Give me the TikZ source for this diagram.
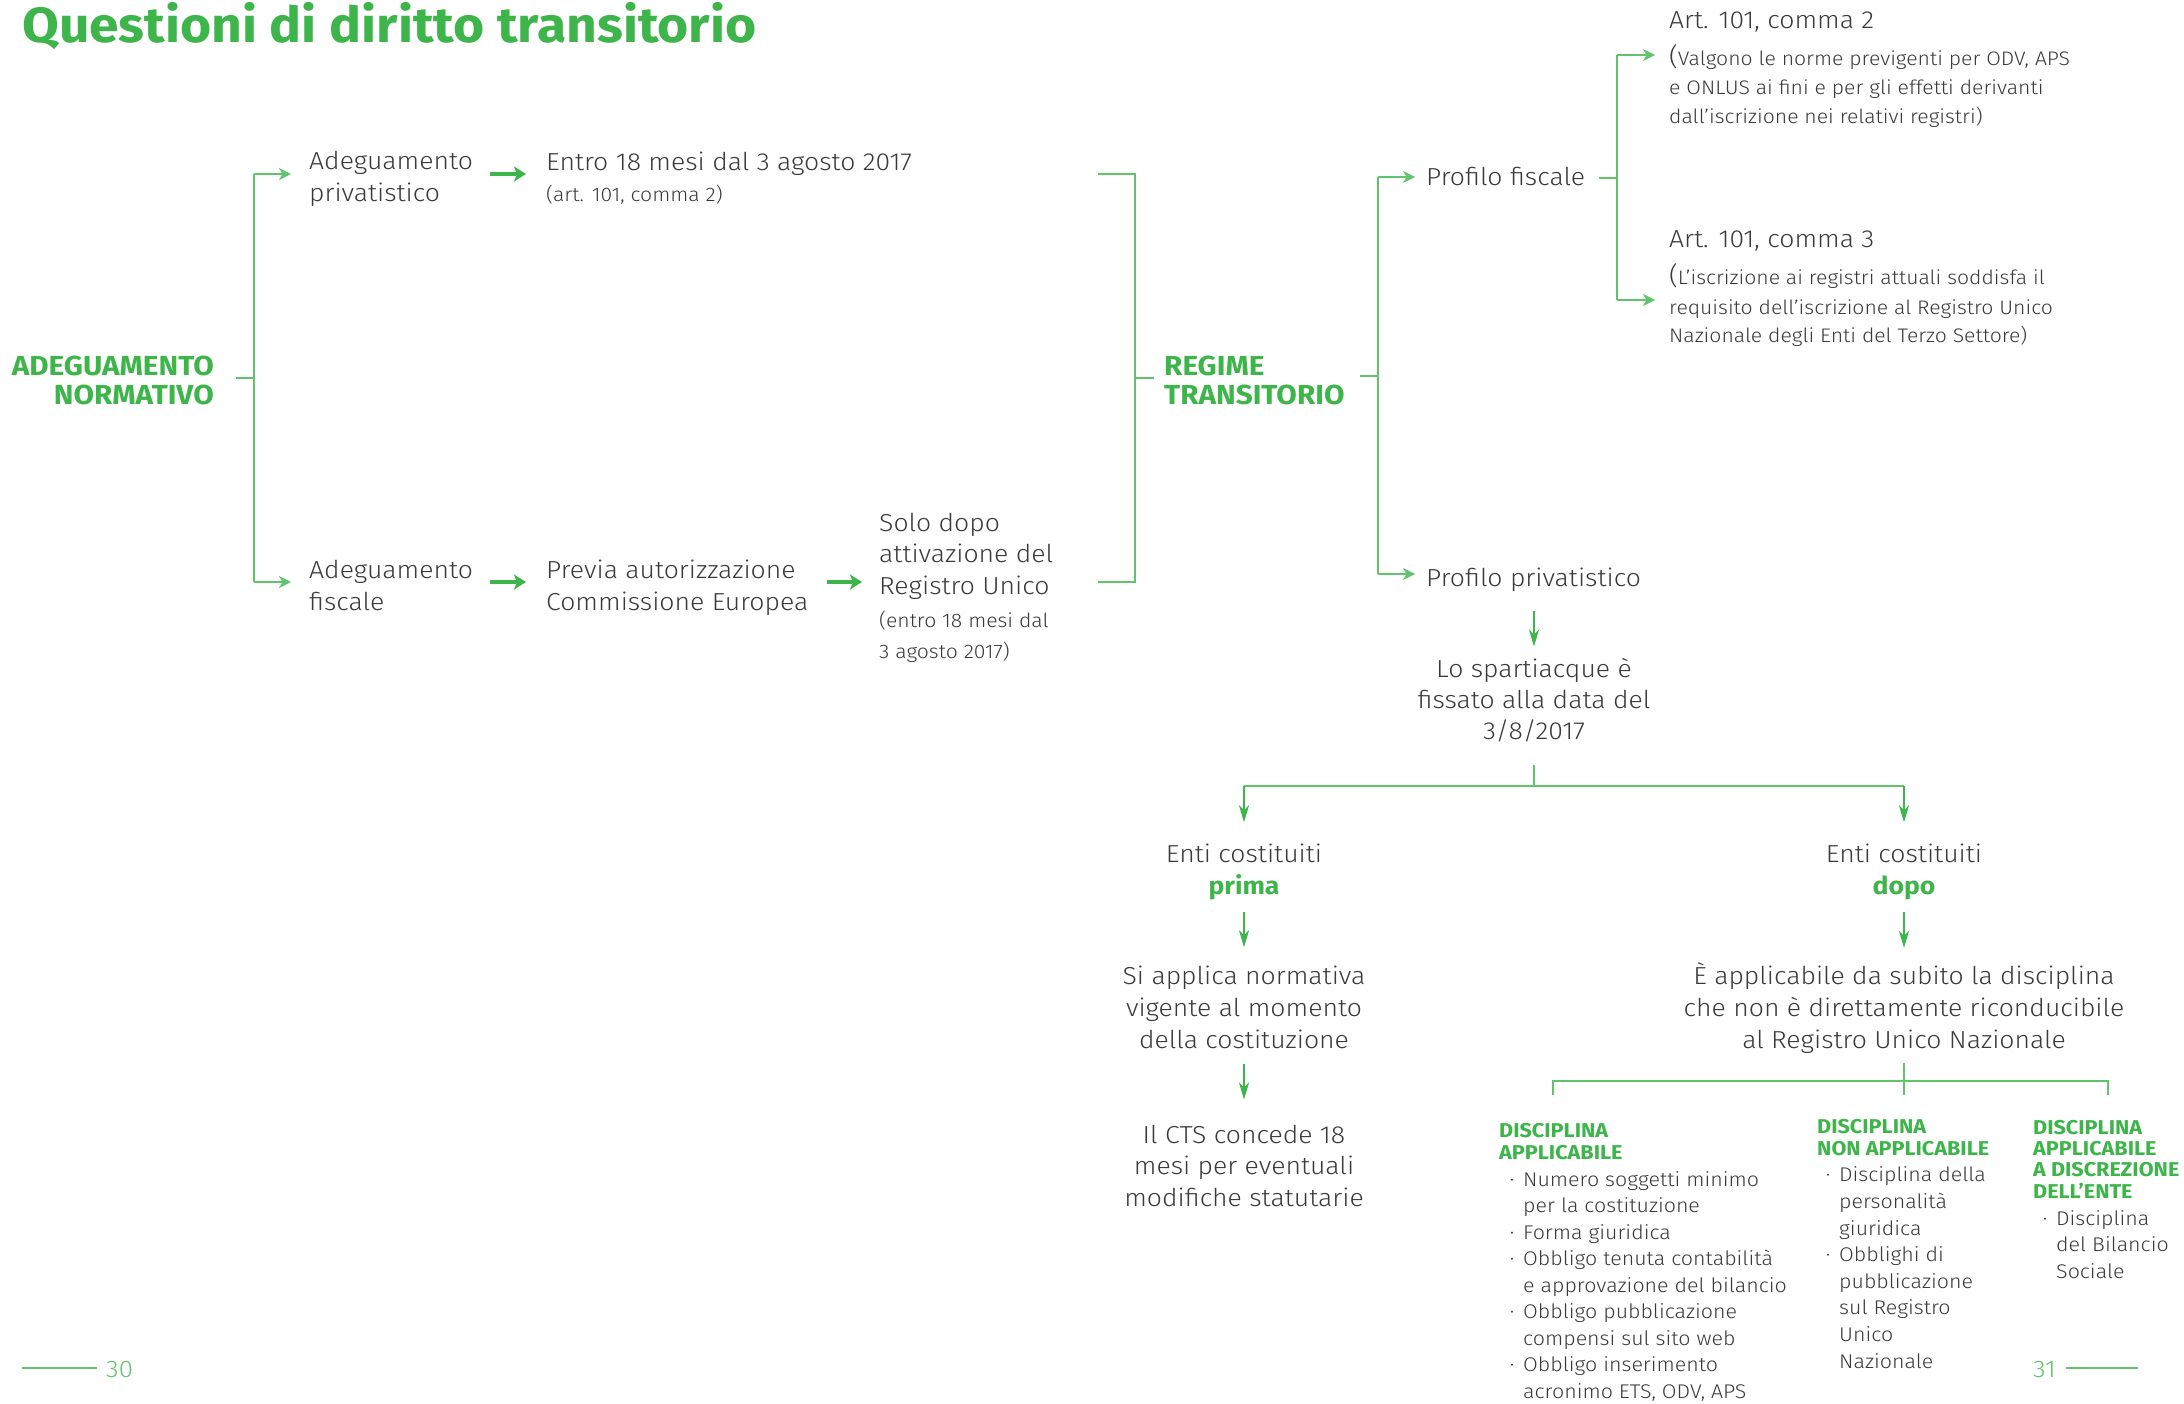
\documentclass[tikz,border=0pt]{standalone}
\usepackage{fontspec}
\setmainfont{Fira Sans}[UprightFont=* Light, BoldFont=* Bold, FakeStretch=1.08]
\usetikzlibrary{arrows.meta}

\definecolor{verde}{HTML}{3DB54A}
\definecolor{verdelinea}{HTML}{62C36D}
\definecolor{grigio}{HTML}{3A3A3A}

\newcommand{\puntino}{\llap{·\hspace{9pt}}}

\tikzset{
  corpo/.style={inner sep=0pt, text=grigio, align=left, font=\fontsize{24.6}{32}\selectfont},
  nota/.style={inner sep=0pt, text=grigio, align=left, font=\fontsize{19.6}{29}\selectfont},
  capo/.style={inner sep=0pt, text=verde, align=left, font=\fontsize{27.5}{29}\selectfont\bfseries},
  sottocapo/.style={inner sep=0pt, text=verde, align=left, font=\fontsize{20}{21.3}\selectfont\bfseries},
  voce/.style={inner sep=0pt, text=grigio, align=left, font=\fontsize{19.8}{26.5}\selectfont},
  pagina/.style={inner sep=0pt, text=verdelinea, font=\fontsize{24}{24}\selectfont},
  ramo/.style={draw=verdelinea, line width=1.6pt},
  ramofreccia/.style={ramo, -{Stealth[length=12pt, width=12pt, inset=3.5pt]}},
  freccione/.style={draw=verde, line width=3.5pt, -{Stealth[length=12pt, width=15pt, inset=3pt]}},
  giu/.style={draw=verde, line width=2pt, -{Stealth[length=17pt, width=10pt, inset=5pt]}}
}

\begin{document}
\begin{tikzpicture}[x=1pt, y=-1pt]
\useasboundingbox[fill=white] (0,0) rectangle (2184,1404);

% titolo
\node[inner sep=0pt, anchor=base west, text=verde, font=\fontsize{49.4}{50}\selectfont\bfseries] (titolo) at (22,43) {Questioni di diritto transitorio};

% adeguamento normativo
\node[capo, anchor=base east, align=right] (adeg) at (214,404) {ADEGUAMENTO\\NORMATIVO};
\node[corpo, anchor=base west] (adpriv) at (309,202) {Adeguamento\\privatistico};
\node[corpo, anchor=base west] (entro) at (546,171) {Entro 18 mesi dal 3 agosto 2017};
\node[nota, anchor=base west] (entronota) at (546,202) {(art. 101, comma 2)};
\node[corpo, anchor=base west] (adfisc) at (309,610) {Adeguamento\\fiscale};
\node[corpo, anchor=base west] (previa) at (546,610) {Previa autorizzazione\\Commissione Europea};
\node[corpo, anchor=base west, font=\fontsize{24.6}{31.5}\selectfont] (solo) at (879,594) {Solo dopo\\attivazione del\\Registro Unico};
\node[nota, anchor=base west, font=\fontsize{19.6}{31}\selectfont] (solonota) at (879,658) {(entro 18 mesi dal\\3 agosto 2017)};

% regime transitorio
\node[capo, anchor=base west] (regime) at (1164,404) {REGIME\\TRANSITORIO};
\node[corpo, anchor=base west] (pfisc) at (1426,186) {Profilo fiscale};
\node[corpo, anchor=base west] (ppriv) at (1426,586) {Profilo privatistico};
\node[corpo, anchor=base west] (art2) at (1669,29) {Art. 101, comma 2};
\node[nota, anchor=base west] (art2nota) at (1669,124) {{\fontsize{25}{25}\selectfont(}Valgono le norme previgenti per ODV, APS\\e ONLUS ai fini e per gli effetti derivanti\\dall’iscrizione nei relativi registri)};
\node[corpo, anchor=base west] (art3) at (1669,248) {Art. 101, comma 3};
\node[nota, anchor=base west] (art3nota) at (1669,343) {{\fontsize{25}{25}\selectfont(}L’iscrizione ai registri attuali soddisfa il\\requisito dell’iscrizione al Registro Unico\\Nazionale degli Enti del Terzo Settore)};

% profilo privatistico
\node[corpo, anchor=base, align=center, font=\fontsize{24.6}{31}\selectfont] (spart) at (1534,739) {Lo spartiacque è\\fissato alla data del\\3/8/2017};
\node[corpo, anchor=base, align=center] (prima) at (1244,894) {Enti costituiti\\\textcolor{verde}{\bfseries prima}};
\node[corpo, anchor=base, align=center] (dopo) at (1904,894) {Enti costituiti\\\textcolor{verde}{\bfseries dopo}};
\node[corpo, anchor=base, align=center] (applnorm) at (1244,1048) {Si applica normativa\\vigente al momento\\della costituzione};
\node[corpo, anchor=base, align=center, font=\fontsize{24.6}{31.5}\selectfont] (cts) at (1244,1206) {Il CTS concede 18\\mesi per eventuali\\modifiche statutarie};
\node[corpo, anchor=base, align=center] (subito) at (1904,1048) {È applicabile da subito la disciplina\\che non è direttamente riconducibile\\al Registro Unico Nazionale};

% discipline
\node[sottocapo, anchor=base west] (dapp) at (1499,1159) {DISCIPLINA\\APPLICABILE};
\node[voce, anchor=base west] (dappvoci) at (1523,1398) {\puntino Numero soggetti minimo\\per la costituzione\\\puntino Forma giuridica\\\puntino Obbligo tenuta contabilità\\e approvazione del bilancio\\\puntino Obbligo pubblicazione\\compensi sul sito web\\\puntino Obbligo inserimento\\acronimo ETS, ODV, APS};
\node[sottocapo, anchor=base west] (dnon) at (1817,1155) {DISCIPLINA\\NON APPLICABILE};
\node[voce, anchor=base west, font=\fontsize{19.8}{26.6}\selectfont] (dnonvoci) at (1839,1368) {\puntino Disciplina della\\personalità\\giuridica\\\puntino Obblighi di\\pubblicazione\\sul Registro\\Unico\\Nazionale};
\node[sottocapo, anchor=base west] (ddisc) at (2033,1198) {DISCIPLINA\\APPLICABILE\\A DISCREZIONE\\DELL’ENTE};
\node[voce, anchor=base west] (ddiscvoci) at (2056,1278) {\puntino Disciplina\\del Bilancio\\Sociale};

% numeri di pagina
\node[pagina, anchor=base west] (p30) at (106,1377) {30};
\node[pagina, anchor=base west] (p31) at (2033,1377) {31};

% punti di snodo
\coordinate (a0) at (236,378);
\coordinate (a1) at (254,378);
\coordinate (a2) at (254,174);
\coordinate (a3) at (254,582);
\coordinate (b1) at (1098,174);
\coordinate (b2) at (1135,174);
\coordinate (b3) at (1135,582);
\coordinate (b4) at (1098,582);
\coordinate (b5) at (1135,378);
\coordinate (c0) at (1360,376);
\coordinate (c1) at (1378,177);
\coordinate (c2) at (1378,574);
\coordinate (d0) at (1599,178);
\coordinate (d1) at (1617,55);
\coordinate (d2) at (1617,300);
\coordinate (fork) at (1534,786);
\coordinate (f1) at (1553,1095);
\coordinate (f2) at (2108,1095);
\coordinate (f30) at (22,1368);
\coordinate (f31) at (2138,1368);

% rami
\draw[ramo] (a0) -- (a1);
\draw[ramo] (a2) -- (a3);
\draw[ramofreccia, shorten >=18pt] (a2) -- (a2 -| adpriv.west);
\draw[ramofreccia, shorten >=18pt] (a3) -- (a3 -| adfisc.west);
\draw[freccione, shorten <=17pt, shorten >=20pt] (adpriv.east |- a2) -- (entro.west |- a2);
\draw[freccione, shorten <=17pt, shorten >=20pt] (adfisc.east |- a3) -- (previa.west |- a3);
\draw[freccione, shorten <=18pt, shorten >=17pt] (previa.east |- a3) -- (solo.west |- a3);
\draw[ramo] (b1) -- (b2) -- (b3) -- (b4);
\draw[ramo, shorten >=10pt] (b5) -- (b5 -| regime.west);
\draw[ramo] (c0) -- (c0 -| c1);
\draw[ramo] (c1) -- (c2);
\draw[ramofreccia, shorten >=11pt] (c1) -- (c1 -| pfisc.west);
\draw[ramofreccia, shorten >=11pt] (c2) -- (c2 -| ppriv.west);
\draw[ramo] (d0) -- (d0 -| d1);
\draw[ramo] (d1) -- (d2);
\draw[ramofreccia, shorten >=14pt] (d1) -- (d1 -| art2.west);
\draw[ramofreccia, shorten >=14pt] (d2) -- (d2 -| art3.west);

% frecce verticali
\draw[giu, shorten <=20pt, shorten >=11pt] (spart.north |- ppriv.south) -- (spart.north);
\draw[ramo, line width=2pt, shorten <=23pt] (spart.south) -- (fork);
\draw[ramo, line width=2pt] (fork -| prima.north) -- (fork -| dopo.north);
\draw[giu, shorten >=21pt] (fork -| prima.north) -- (prima.north);
\draw[giu, shorten >=21pt] (fork -| dopo.north) -- (dopo.north);
\draw[giu, shorten <=12pt, shorten >=18pt] (prima.south) -- (applnorm.north);
\draw[giu, shorten <=12pt, shorten >=14pt] (dopo.south) -- (subito.north);
\draw[giu, shorten <=16pt, shorten >=25pt] (applnorm.south) -- (cts.north);
\draw[ramo, shorten <=10pt] (subito.south) -- (subito.south |- f1);
\draw[ramo] (f1) -- ++(0,-14) -| (f2);

% filetti
\draw[ramo, shorten >=9pt] (f30) -- (f30 -| p30.west);
\draw[ramo, shorten <=10pt] (f31 -| p31.east) -- (f31);
\end{tikzpicture}
\end{document}
